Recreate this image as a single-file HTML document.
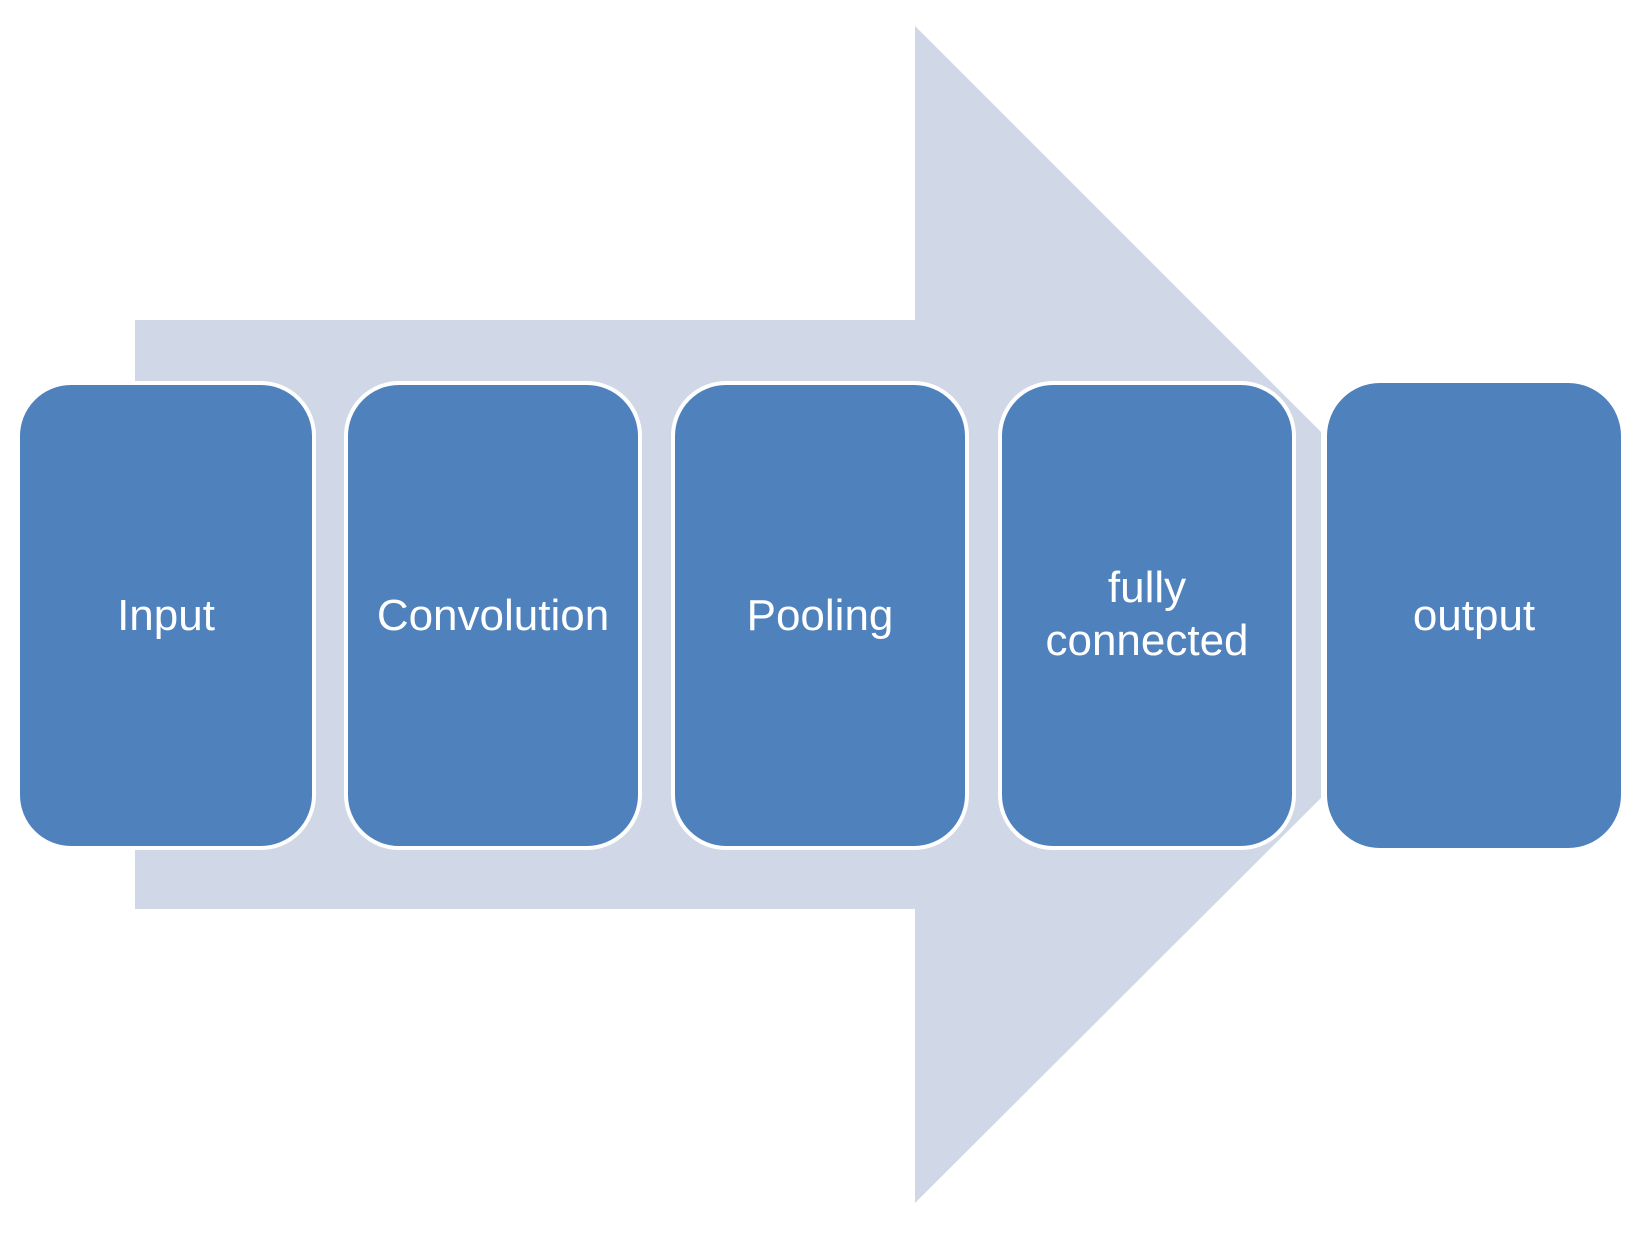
<!DOCTYPE html>
<html><head><style>
html,body{margin:0;padding:0;background:#fff;}
</style></head><body>
<svg width="1650" height="1238" viewBox="0 0 1650 1238" xmlns="http://www.w3.org/2000/svg">
<polygon points="135,320 915,320 915,26 1321,432 1321,798 915,1203 915,909 135,909" fill="#d0d8e8"/>
<g fill="#4f81bd" stroke="#fff" stroke-width="4">
<rect x="18" y="383" width="296" height="465" rx="53"/>
<rect x="346" y="383" width="294" height="465" rx="53"/>
<rect x="673" y="383" width="294" height="465" rx="53"/>
<rect x="1000" y="383" width="294" height="465" rx="53"/>
</g>
<rect x="1327" y="383" width="294" height="465" rx="53" fill="#4f81bd"/>
<g font-family="Liberation Sans, sans-serif" font-size="44" fill="#fff" text-anchor="middle">
<text x="166" y="630">Input</text>
<text x="493" y="630">Convolution</text>
<text x="820" y="630">Pooling</text>
<text x="1147" y="602">fully</text>
<text x="1147" y="655">connected</text>
<text x="1474" y="630">output</text>
</g>
</svg>
</body></html>
